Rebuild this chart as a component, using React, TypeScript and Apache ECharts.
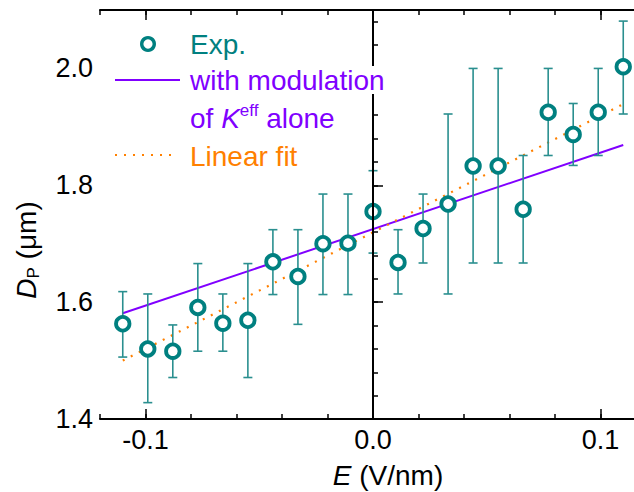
import React, { useEffect, useRef } from "react";
import * as echarts from "echarts";

const E = [-0.11, -0.099, -0.088, -0.077, -0.066, -0.055, -0.044, -0.033, -0.022, -0.011, 0, 0.011, 0.022, 0.033, 0.044, 0.055, 0.066, 0.077, 0.088, 0.099, 0.11];
const DP = [1.563, 1.520, 1.516, 1.591, 1.564, 1.569, 1.669, 1.644, 1.700, 1.701, 1.755, 1.668, 1.726, 1.768, 1.833, 1.833, 1.759, 1.925, 1.887, 1.925, 2.003];
const errHigh = [1.618, 1.614, 1.561, 1.666, 1.614, 1.666, 1.724, 1.724, 1.785, 1.785, 1.825, 1.724, 1.785, 1.922, 2.0, 2.0, 1.851, 2.0, 1.94, 2.0, 2.081];
const errLow = [1.506, 1.428, 1.471, 1.516, 1.516, 1.471, 1.613, 1.562, 1.613, 1.613, 1.684, 1.614, 1.667, 1.614, 1.667, 1.667, 1.667, 1.851, 1.834, 1.851, 1.922];

const lineE = [-0.11, 0.11];
const modelDP = [1.581, 1.869];
const fitDP = [1.5, 1.939];

const xTickLabels = [-0.1, 0, 0.1];
const yTickLabels = [1.4, 1.6, 1.8, 2.0];

const TEAL = "#008080";
const ERR = "#2a8f8f";
const PURPLE = "#8000ff";
const ORANGE = "#ff8000";
const FONT = "'Liberation Sans', Arial, sans-serif";
const LF = 28;

export default function App() {
  const ref = useRef<HTMLDivElement>(null);
  useEffect(() => {
    if (!ref.current) return;
    const chart = echarts.init(ref.current, null, { renderer: "svg" });
    const xBase = { type: "value", min: -0.12, max: 0.12, gridIndex: 0 };
    const yBase = { type: "value", min: 1.4, max: 2.1, gridIndex: 0 };
    const axisLine = { show: true, lineStyle: { color: "#000", width: 2 } };
    const option: any = {
      animation: false,
      backgroundColor: "#fff",
      grid: { left: 100, right: 14, top: 10, bottom: 73, containLabel: false, outerBoundsMode: "none" },
      xAxis: [
        {
          ...xBase, position: "bottom", interval: 0.02,
          axisLine, splitLine: { show: false },
          axisTick: { show: true, inside: true, length: 5, lineStyle: { color: "#000", width: 1.5 } },
          axisLabel: {
            show: true, customValues: xTickLabels, margin: 7,
            formatter: (v: number) => v.toFixed(1),
            color: "#000", fontSize: 27, fontFamily: FONT,
          },
        },
        {
          ...xBase, position: "bottom",
          axisLine: { show: false }, splitLine: { show: false }, axisLabel: { show: false },
          axisTick: { show: true, inside: true, length: 10, customValues: xTickLabels, lineStyle: { color: "#000", width: 1.5 } },
        },
        {
          ...xBase, position: "top", interval: 0.02,
          axisLine, splitLine: { show: false }, axisLabel: { show: false },
          axisTick: { show: true, inside: true, length: 5, lineStyle: { color: "#000", width: 1.5 } },
        },
        {
          ...xBase, position: "top",
          axisLine: { show: false }, splitLine: { show: false }, axisLabel: { show: false },
          axisTick: { show: true, inside: true, length: 10, customValues: xTickLabels, lineStyle: { color: "#000", width: 1.5 } },
        },
      ],
      yAxis: [
        {
          ...yBase, position: "left", interval: 0.04,
          axisLine, splitLine: { show: false },
          axisTick: { show: true, inside: true, length: 5, lineStyle: { color: "#000", width: 1.5 } },
          axisLabel: {
            show: true, customValues: yTickLabels, margin: 7,
            formatter: (v: number) => v.toFixed(1),
            color: "#000", fontSize: 27, fontFamily: FONT,
          },
        },
        {
          ...yBase, position: "left",
          axisLine: { show: false }, splitLine: { show: false }, axisLabel: { show: false },
          axisTick: { show: true, inside: true, length: 10, customValues: yTickLabels, lineStyle: { color: "#000", width: 1.5 } },
        },
      ],
      series: [
        {
          type: "line", xAxisIndex: 0, yAxisIndex: 0,
          data: lineE.map((x, i) => [x, modelDP[i]]),
          symbol: "none", lineStyle: { color: PURPLE, width: 2 }, z: 2, silent: true,
        },
        {
          type: "line", xAxisIndex: 0, yAxisIndex: 0,
          data: lineE.map((x, i) => [x, fitDP[i]]),
          symbol: "none", lineStyle: { color: ORANGE, width: 2.2, type: [2, 7] }, z: 2, silent: true,
        },
        {
          type: "custom", xAxisIndex: 0, yAxisIndex: 0,
          data: E.map((x, i) => [x, errLow[i], errHigh[i]]),
          encode: { x: 0, y: [1, 2] },
          z: 3, silent: true,
          renderItem: (params: any, api: any) => {
            const x = api.value(0);
            const lo = api.coord([x, api.value(1)]);
            const hi = api.coord([x, api.value(2)]);
            const w = 4.5;
            const style = { stroke: ERR, lineWidth: 1.6 };
            return {
              type: "group",
              children: [
                { type: "line", shape: { x1: hi[0], y1: hi[1], x2: lo[0], y2: lo[1] }, style },
                { type: "line", shape: { x1: hi[0] - w, y1: hi[1], x2: hi[0] + w, y2: hi[1] }, style },
                { type: "line", shape: { x1: lo[0] - w, y1: lo[1], x2: lo[0] + w, y2: lo[1] }, style },
              ],
            };
          },
        },
        {
          type: "scatter", xAxisIndex: 0, yAxisIndex: 0,
          data: E.map((x, i) => [x, DP[i]]),
          symbol: "circle", symbolSize: 13.5,
          itemStyle: { color: "#fff", borderColor: TEAL, borderWidth: 3.8, opacity: 1 },
          z: 4, silent: true,
        },
        {
          type: "line", xAxisIndex: 0, yAxisIndex: 0, data: [], z: 6, silent: true,
          markLine: {
            silent: true, symbol: "none", label: { show: false },
            lineStyle: { color: "#000", width: 2, type: "solid" },
            data: [{ xAxis: 0 }],
          },
        },
      ],
      graphic: [
        { type: "circle", z: 100, shape: { cx: 148, cy: 44, r: 6.3 }, style: { fill: "#fff", stroke: TEAL, lineWidth: 3.4 } },
        { type: "text", z: 100, x: 190, y: 44, style: { text: "Exp.", fill: TEAL, fontSize: LF, fontFamily: FONT, textVerticalAlign: "middle" } },
        { type: "line", z: 100, shape: { x1: 115, y1: 80, x2: 180, y2: 80 }, style: { stroke: PURPLE, lineWidth: 2 } },
        { type: "text", z: 100, x: 190, y: 80, style: { text: "with modulation", fill: PURPLE, fontSize: LF, fontFamily: FONT, textVerticalAlign: "middle", backgroundColor: "#fff" } },
        {
          type: "text", z: 100, x: 190, y: 118,
          style: {
            text: "{n|of }{i|K}{s|eff}{n| alone}", fill: PURPLE, fontSize: LF, fontFamily: FONT, textVerticalAlign: "middle",
            rich: {
              n: { fill: PURPLE, fontSize: LF, fontFamily: FONT, lineHeight: 32 },
              i: { fill: PURPLE, fontSize: LF, fontFamily: FONT, fontStyle: "italic", lineHeight: 32 },
              s: { fill: PURPLE, fontSize: 17, fontFamily: FONT, verticalAlign: "top", lineHeight: 17 },
            },
          },
        },
        { type: "line", z: 100, shape: { x1: 115, y1: 155, x2: 174, y2: 155 }, style: { stroke: ORANGE, lineWidth: 2.2, lineDash: [2, 7] } },
        { type: "text", z: 100, x: 190, y: 156, style: { text: "Linear fit", fill: ORANGE, fontSize: LF, fontFamily: FONT, textVerticalAlign: "middle" } },
        {
          type: "text", z: 100, x: 388, y: 475,
          style: {
            text: "{i|E} (V/nm)", fill: "#000", fontSize: LF, fontFamily: FONT, textAlign: "center", textVerticalAlign: "middle",
            rich: { i: { fill: "#000", fontSize: LF, fontFamily: FONT, fontStyle: "italic" } },
          },
        },
        {
          type: "text", z: 100, x: 26, y: 250, rotation: Math.PI / 2,
          style: {
            text: "{i|D}{s|P} (μm)", fill: "#000", fontSize: LF, fontFamily: FONT, textAlign: "center", textVerticalAlign: "middle",
            rich: {
              i: { fill: "#000", fontSize: LF, fontFamily: FONT, fontStyle: "italic", lineHeight: 32 },
              s: { fill: "#000", fontSize: 17, fontFamily: FONT, verticalAlign: "bottom", lineHeight: 14 },
            },
          },
        },
      ],
    };
    chart.setOption(option);
    return () => chart.dispose();
  }, []);
  return (
    <div style={{ position: "fixed", left: 0, top: 0, width: 634, height: 492, overflow: "hidden", background: "#fff" }}>
      <div ref={ref} style={{ width: 660, height: 492 }} />
    </div>
  );
}
